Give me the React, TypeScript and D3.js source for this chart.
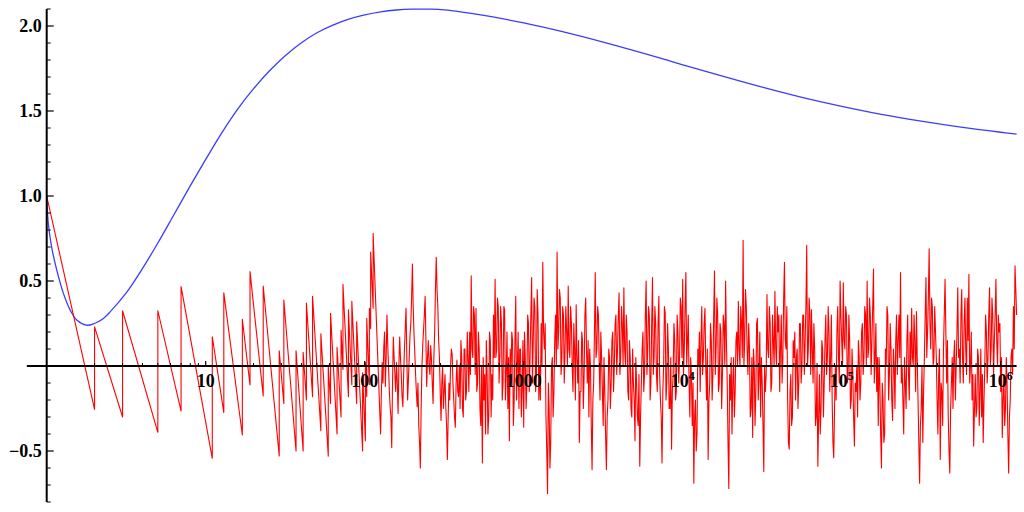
import React from "react";
import * as d3 from "d3";

const W = 1024;
const H = 512;

// Smooth blue curve: log10(x) positions and values
const blueLogX = [0, 0.01, 0.031, 0.063, 0.104, 0.147, 0.189, 0.25, 0.3, 0.35, 0.4, 0.5, 0.6, 0.7, 0.8, 0.9, 1.0, 1.1, 1.2, 1.3, 1.4, 1.5, 1.6, 1.7, 1.8, 1.9, 2.0, 2.1, 2.2, 2.3, 2.4, 2.5, 2.75, 3.0, 3.25, 3.5, 3.75, 4.0, 4.25, 4.5, 4.75, 5.0, 5.25, 5.5, 5.75, 6.0, 6.1];
const blueVal = [1.0, 0.84, 0.7, 0.565, 0.43, 0.33, 0.27, 0.24, 0.25, 0.275, 0.32, 0.43, 0.57, 0.725, 0.89, 1.055, 1.215, 1.37, 1.51, 1.63, 1.735, 1.825, 1.9, 1.96, 2.005, 2.04, 2.065, 2.083, 2.094, 2.099, 2.099, 2.095, 2.062, 2.018, 1.965, 1.905, 1.84, 1.772, 1.705, 1.64, 1.58, 1.527, 1.48, 1.44, 1.405, 1.375, 1.364];

// Red series, early saw-tooth part: x and value (jumps at primes)
const redEarlyX = [1, 2, 2, 3, 3, 5, 5, 7, 7, 11, 11, 13, 13, 17, 17, 19, 19, 23, 23, 29, 29, 31, 31, 37, 37, 41, 41, 43, 43, 47, 47, 53, 53, 59, 59, 61, 61, 67, 67, 71, 71, 73, 73, 79, 79, 83, 83, 89, 89, 97, 97, 101, 101, 103, 103, 107, 107, 109, 109, 113, 113];
const redEarlyY = [1.0, -0.255, 0.23, -0.3, 0.325, -0.39, 0.325, -0.265, 0.467, -0.543, 0.172, -0.274, 0.43, -0.406, 0.274, -0.112, 0.555, -0.176, 0.47, -0.529, 0.09, -0.22, 0.388, -0.5, 0.09, -0.5, 0.08, -0.2, 0.37, -0.18, 0.41, -0.38, 0.19, -0.53, 0.0, -0.22, 0.31, -0.4, 0.11, -0.3, 0.21, -0.02, 0.48, -0.18, 0.33, -0.11, 0.38, -0.22, 0.26, -0.5, -0.04, -0.44, 0.02, -0.18, 0.28, -0.11, 0.34, 0.22, 0.67, 0.34, 0.78];

// Red series, dense part: read every 0.01 in log10(x) from 10^2.10 ...
const redDenseStartLog = 2.1;
const redDenseStepLog = 0.01;
const redDenseY = [
  -0.40, 0.02, 0.11, -0.12, 0.30, 0.00, -0.24, -0.48, 0.17, -0.05,
  0.02, -0.28, 0.17, -0.05, -0.24, 0.10, 0.34, -0.20, 0.05, 0.25,
  0.60, 0.19, -0.05, -0.24, -0.35, -0.60, 0.0, 0.21, 0.41, -0.12,
  0.15, -0.05, 0.04, -0.22, 0.20, 0.64, 0.35, 0.05, -0.32, 0.0,
  -0.15, -0.24, -0.55, -0.10, 0.0, 0.07, -0.20, -0.36, 0.035, -0.18,
  -0.25, 0.05, -0.30, 0.10, -0.15, 0.05, 0.20, 0.53, 0.05, 0.30,
  0.34, -0.10, 0.10, -0.35, -0.57, -0.20, -0.40, -0.05, -0.30, 0.15,
  -0.05, 0.30, 0.51, 0.10, 0.35, 0.05, 0.25, -0.10, 0.33, -0.05,
  -0.25, -0.44, -0.10, 0.15, -0.20, 0.41, 0.00, -0.25, 0.10, -0.15,
  -0.36, 0.05, -0.10, 0.25, 0.05, 0.52, 0.15, 0.35, -0.05, 0.30,
  0.0, 0.25, 0.61, 0.10, -0.30, -0.75, -0.25, -0.45, 0.05, -0.15,
  0.30, 0.67, 0.20, 0.40, 0.05, 0.30, 0.10, 0.20, 0.47, 0.05,
  0.25, -0.15, 0.10, 0.36, -0.10, -0.45, -0.15, 0.15, -0.05, 0.40,
  -0.10, -0.30, 0.0, -0.61, -0.10, 0.55, 0.10, 0.30, -0.20, 0.05,
  -0.35, -0.15, -0.61, -0.20, 0.05, -0.10, 0.20, 0.0, 0.30, 0.10,
  0.43, 0.05, 0.25, 0.46, 0.0, 0.20, -0.20, 0.05, -0.30, -0.10,
  -0.44, -0.10, -0.35, -0.59, -0.10, 0.20, -0.05, 0.50, 0.10, 0.30,
  -0.10, 0.52, 0.05, 0.25, -0.15, 0.41, -0.20, -0.57, 0.0, 0.31,
  -0.10, 0.10, -0.25, -0.49, -0.05, 0.15, -0.15, 0.20, 0.05, 0.35,
  0.51, 0.10, 0.55, 0.15, -0.10, 0.05, -0.35, -0.69, -0.20, -0.40,
  0.0, -0.15, 0.35, 0.05, 0.34, -0.20, -0.55, -0.10, 0.15, -0.05,
  0.56, 0.10, 0.30, -0.10, 0.20, -0.05, 0.25, 0.50, -0.10, -0.72,
  -0.20, -0.40, 0.05, -0.15, 0.20, 0.38, 0.0, 0.25, 0.74, 0.15,
  0.35, -0.05, 0.10, -0.25, -0.42, 0.0, -0.15, 0.28, -0.05, -0.30,
  -0.10, -0.62, -0.15, 0.42, 0.05, 0.25, -0.10, 0.15, 0.44, 0.0,
  0.20, -0.15, 0.30, 0.05, 0.61, 0.10, -0.20, -0.49, -0.05, -0.30,
  0.05, -0.20, 0.10, -0.10, 0.25, 0.0, 0.30, 0.15, 0.71, 0.10,
  0.30, 0.33, -0.10, 0.10, -0.30, -0.59, -0.05, -0.25, 0.10, -0.10,
  0.30, 0.05, 0.20, 0.05, -0.20, -0.54, 0.0, 0.20, 0.05, 0.50,
  0.15, 0.49, 0.10, 0.30, -0.05, 0.15, -0.20, -0.05, -0.47, -0.15,
  -0.30, 0.05, -0.10, 0.25, 0.05, 0.30, 0.50, 0.10, 0.30, 0.15,
  0.57, 0.05, -0.15, -0.35, -0.10, -0.60, -0.20, -0.40, 0.0, 0.30,
  -0.05, 0.10, -0.32, 0.0, 0.15, -0.05, 0.30, 0.55, 0.0, -0.40,
  -0.10, 0.15, -0.05, 0.20, 0.34, 0.0, 0.15, 0.32, -0.20, -0.69,
  -0.25, -0.45, 0.05, 0.52, 0.20, 0.69, 0.10, 0.35, 0.05, 0.20,
  -0.20, -0.05, -0.55, -0.15, 0.10, 0.51, -0.10, -0.30, -0.63, -0.10,
  -0.25, 0.15, 0.0, 0.46, 0.10, 0.30, 0.05, 0.25, 0.10, 0.40,
  0.54, 0.0, -0.20, -0.47, -0.05, -0.25, 0.05, -0.15, -0.30, -0.45,
  0.0, 0.20, 0.05, 0.46, 0.10, 0.30, 0.15, 0.51, 0.0, 0.20,
  -0.15, -0.42, -0.05, -0.25, -0.10, -0.63, -0.20, 0.10, 0.35, 0.59,
  0.30,
];
// ... and the in-between readings, half a step (0.005) after each of the above
const redDenseMidY = [
  -0.15, -0.10, 0.20, 0.05, 0.12, -0.15, -0.30, -0.10, 0.05, -0.15,
  -0.10, 0.0, 0.05, -0.18, -0.05, 0.22, 0.05, -0.08, 0.18, 0.40,
  0.35, 0.08, -0.15, -0.10, -0.45, -0.25, 0.12, 0.30, 0.15, 0.05,
  0.0, 0.12, -0.10, 0.05, 0.45, 0.45, 0.15, -0.15, -0.10, -0.25,
  -0.05, -0.35, -0.30, -0.20, 0.10, -0.10, -0.30, -0.10, -0.15, 0.0,
  0.15, -0.25, 0.10, -0.20, 0.20, -0.15, -0.05, 0.10, 0.35, -0.05,
  -0.15, 0.20, -0.25, 0.0, 0.05, -0.05, 0.15, -0.40, 0.20, -0.30,
  -0.20, 0.05, 0.05, 0.40, -0.10, 0.35, -0.20, 0.35, -0.20, 0.20,
  0.05, 0.10, 0.20, -0.35, 0.15, -0.20, 0.20, 0.10, -0.30, 0.15,
  0.20, -0.25, 0.30, -0.15, 0.30, -0.10, 0.40, -0.15, 0.45, -0.20,
  -0.20, 0.0, 0.20, 0.25, -0.50, -0.10, -0.60, 0.0, -0.30, 0.15,
  0.0, 0.10, 0.45, -0.05, 0.35, -0.10, 0.35, 0.0, 0.10, 0.35,
  0.0, 0.25, -0.20, 0.05, 0.15, -0.15, 0.20, -0.25, 0.30, 0.10,
  0.15, 0.10, -0.35, -0.20, 0.20, 0.05, 0.35, 0.0, 0.20, -0.15,
  0.05, -0.40, -0.30, 0.10, -0.25, 0.15, -0.15, 0.25, -0.05, 0.30,
  -0.05, 0.35, 0.0, 0.10, 0.30, -0.15, 0.15, -0.25, 0.10, -0.20,
  0.05, -0.30, -0.05, -0.30, 0.10, -0.15, 0.30, -0.05, 0.35, -0.20,
  0.25, -0.05, 0.35, -0.05, 0.25, -0.05, -0.30, -0.15, 0.35, -0.20,
  0.25, -0.25, 0.05, -0.15, 0.25, -0.20, 0.30, -0.10, 0.40, 0.05,
  -0.05, 0.35, 0.0, 0.30, -0.30, -0.05, -0.10, -0.30, -0.50, 0.10,
  0.20, 0.15, -0.05, 0.25, 0.0, 0.10, -0.20, 0.25, -0.20, 0.30,
  -0.05, 0.40, -0.15, 0.25, -0.25, 0.30, 0.0, 0.15, -0.45, -0.05,
  0.05, -0.10, -0.30, 0.15, 0.0, 0.10, 0.35, 0.05, 0.0, 0.45,
  0.10, 0.25, -0.30, 0.05, 0.10, -0.35, 0.25, -0.20, 0.20, 0.05,
  -0.35, 0.0, -0.05, 0.10, 0.35, -0.15, 0.30, 0.0, 0.10, 0.35,
  0.30, 0.10, -0.10, 0.40, 0.15, 0.35, -0.45, -0.15, -0.35, 0.15,
  0.20, 0.05, -0.25, 0.25, -0.10, 0.30, -0.05, 0.35, 0.0, 0.40,
  -0.05, 0.10, 0.25, -0.35, 0.0, -0.30, -0.40, 0.15, -0.30, 0.15,
  -0.05, 0.35, -0.15, 0.30, -0.45, -0.25, -0.20, 0.35, -0.10, 0.30,
  0.0, 0.15, 0.35, -0.10, 0.30, -0.25, 0.10, -0.30, -0.10, 0.0,
  0.15, -0.20, 0.20, -0.05, 0.35, 0.0, 0.05, 0.40, -0.05, 0.35,
  -0.10, 0.25, 0.05, 0.05, -0.40, -0.10, -0.45, 0.10, 0.35, -0.20,
  0.25, -0.20, 0.10, -0.25, 0.30, 0.15, 0.05, -0.10, -0.20, 0.05,
  -0.25, 0.30, -0.20, 0.0, 0.05, 0.30, -0.15, 0.05, -0.45, -0.35,
  0.0, -0.15, 0.30, 0.05, 0.40, 0.25, 0.40, 0.0, 0.35, 0.05,
  -0.40, 0.10, -0.10, -0.35, 0.30, 0.20, 0.15, -0.50, -0.25, 0.05,
  0.05, -0.20, 0.20, 0.05, -0.10, 0.45, -0.10, 0.40, -0.05, 0.15,
  -0.10, 0.20, -0.05, -0.25, -0.30, 0.10, -0.35, 0.10, -0.05, -0.20,
  0.30, -0.10, 0.30, 0.0, 0.40, -0.05, 0.30, 0.15, 0.30, 0.25,
  0.05, -0.20, -0.35, 0.05, -0.40, -0.30, 0.05, -0.05, 0.10, 0.45,
];

// Axis ticks
const yMajorTicks = [-0.5, 0.5, 1.0, 1.5, 2.0];
const yMajorLabels = ["\u22120.5", "0.5", "1.0", "1.5", "2.0"];
const yMinorTicks = [-0.8, -0.7, -0.6, -0.4, -0.3, -0.2, -0.1, 0.1, 0.2, 0.3, 0.4, 0.6, 0.7, 0.8, 0.9, 1.1, 1.2, 1.3, 1.4, 1.6, 1.7, 1.8, 1.9, 2.1];
const xMajorTicks = [10, 100, 1000, 1e4, 1e5, 1e6];
const xLabelBase = ["10", "100", "1000", "10", "10", "10"];
const xLabelSup = ["", "", "", "4", "5", "6"];
const xMinorMult = [2, 3, 4, 5, 6, 7, 8, 9];
const xMinorDecades = [1, 10, 100, 1000, 1e4, 1e5];

const FONT = "'Liberation Serif', 'Times New Roman', serif";

export default function App() {
  const x = d3.scaleLog().domain([1, 1e6]).range([46.7, 1000.7]);
  const y = d3.scaleLinear().domain([0, 1]).range([366, 196]);

  const bluePts: [number, number][] = blueLogX.map((lx, i) => [Math.pow(10, lx), blueVal[i]]);
  const densePts: [number, number][] = [];
  redDenseY.forEach((v, i) => {
    const lx = redDenseStartLog + i * redDenseStepLog;
    densePts.push([Math.pow(10, lx), v]);
    if (i < redDenseMidY.length) densePts.push([Math.pow(10, lx + redDenseStepLog / 2), redDenseMidY[i]]);
  });
  const redPts: [number, number][] = [
    ...redEarlyX.map((v, i) => [v, redEarlyY[i]] as [number, number]),
    ...densePts,
  ];

  const blueLine = d3
    .line<[number, number]>()
    .x((d) => x(d[0]))
    .y((d) => y(d[1]))
    .curve(d3.curveCatmullRom.alpha(0.5));
  const redLine = d3
    .line<[number, number]>()
    .x((d) => x(d[0]))
    .y((d) => y(d[1]));

  const xMinor: number[] = [];
  xMinorDecades.forEach((dec) => xMinorMult.forEach((m) => xMinor.push(dec * m)));

  const x0 = x(1);
  const y0 = y(0);
  const xAxisStart = x(0.75);
  const xAxisEnd = x(Math.pow(10, 6.1));

  return (
    <div style={{ position: "absolute", left: 0, top: 0, width: W, height: H, background: "#fff" }}>
      <svg width={W} height={H} style={{ display: "block" }}>
        <rect x={0} y={0} width={W} height={H} fill="#fff" />
        <path d={blueLine(bluePts) || ""} fill="none" stroke="#3c3cff" strokeWidth={1.3} />
        <path d={redLine(redPts) || ""} fill="none" stroke="#ff0000" strokeWidth={1.1} strokeLinejoin="round" />

        {/* x axis */}
        <line x1={xAxisStart} x2={xAxisEnd} y1={y0} y2={y0} stroke="#000" strokeWidth={2} />
        {xMajorTicks.map((t) => (
          <line key={"xM" + t} x1={x(t)} x2={x(t)} y1={y0} y2={y0 - 5} stroke="#000" strokeWidth={1.2} />
        ))}
        {xMinor.map((t) => (
          <line key={"xm" + t} x1={x(t)} x2={x(t)} y1={y0} y2={y0 - 3} stroke="#000" strokeWidth={1} />
        ))}
        {xMajorTicks.map((t, i) => (
          <text key={"xl" + t} x={x(t)} y={y0 + 21} textAnchor="middle" fontFamily={FONT} fontWeight="bold" fontSize={18} fill="#000">
            {xLabelBase[i]}
            {xLabelSup[i] ? (
              <tspan dy={-7} fontSize={12}>
                {xLabelSup[i]}
              </tspan>
            ) : null}
          </text>
        ))}

        {/* y axis */}
        <line x1={x0} x2={x0} y1={y(2.1)} y2={y(-0.8)} stroke="#000" strokeWidth={2} />
        {yMajorTicks.map((t) => (
          <line key={"yM" + t} x1={x0} x2={x0 + 7} y1={y(t)} y2={y(t)} stroke="#000" strokeWidth={1.2} />
        ))}
        {yMinorTicks.map((t) => (
          <line key={"ym" + t} x1={x0} x2={x0 + 4} y1={y(t)} y2={y(t)} stroke="#000" strokeWidth={1} />
        ))}
        {yMajorTicks.map((t, i) => (
          <text key={"yl" + t} x={x0 - 5} y={y(t) + 6} textAnchor="end" fontFamily={FONT} fontWeight="bold" fontSize={18} fill="#000">
            {yMajorLabels[i]}
          </text>
        ))}
      </svg>
    </div>
  );
}
